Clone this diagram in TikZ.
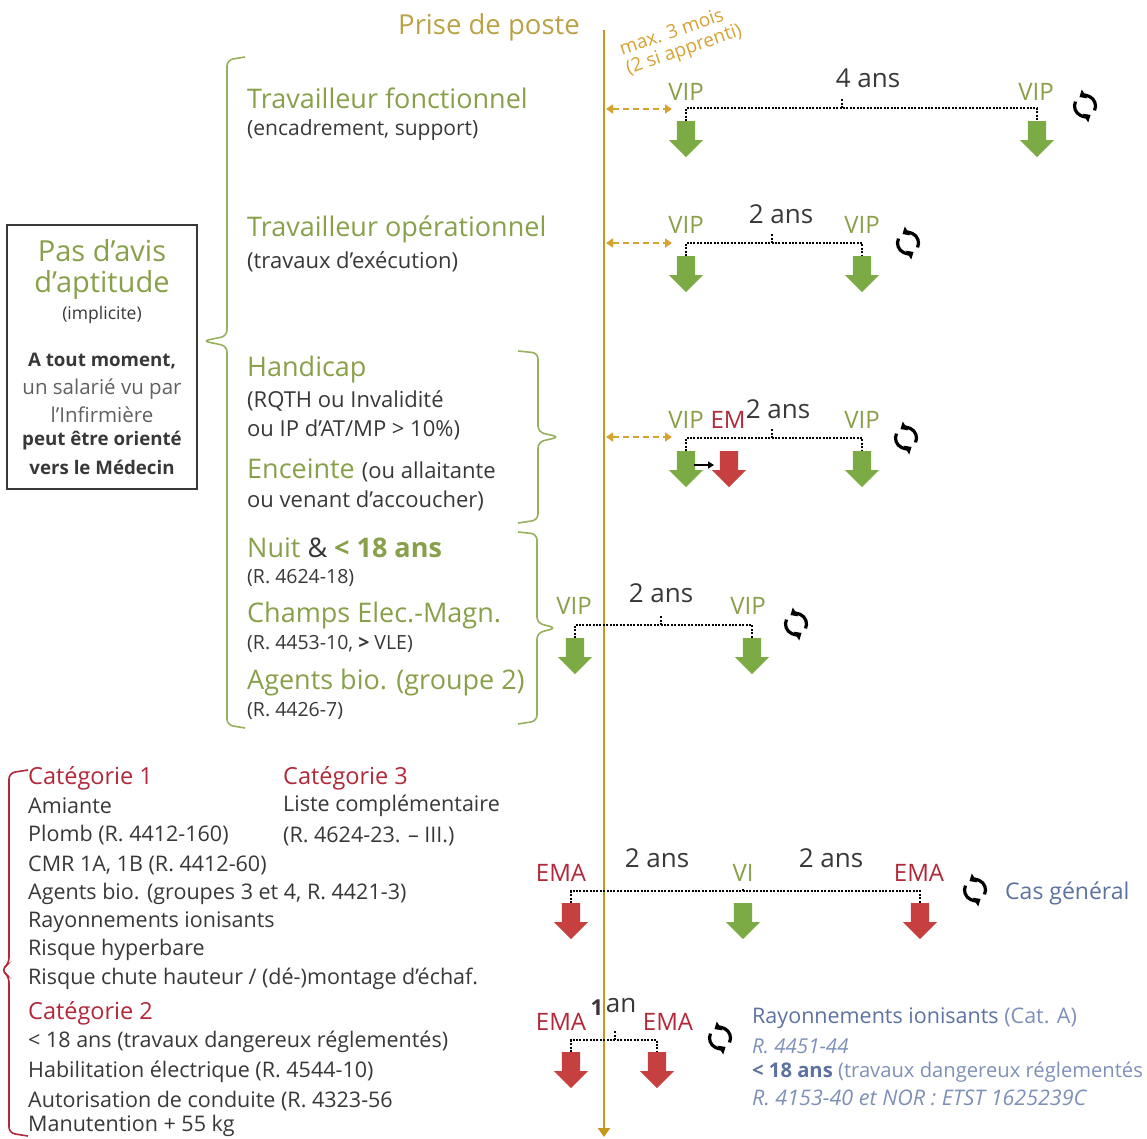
\documentclass[tikz,border=0pt]{standalone}
\usepackage{fontspec}
\setmainfont{Open Sans}
\usetikzlibrary{arrows.meta,shapes.arrows,calc}
\definecolor{tgreen}{RGB}{136,160,74}
\definecolor{agreen}{RGB}{124,170,68}
\definecolor{bgreen}{RGB}{150,176,94}
\definecolor{tred}{RGB}{178,40,56}
\definecolor{ared}{RGB}{198,64,64}
\definecolor{gold}{RGB}{196,152,30}
\definecolor{lgold}{RGB}{186,162,70}
\definecolor{ogold}{RGB}{214,162,50}
\definecolor{tblue}{RGB}{92,114,160}
\definecolor{lblue}{RGB}{126,144,184}
\definecolor{tdark}{RGB}{56,56,56}
\definecolor{tgray}{RGB}{96,96,96}
\newcommand{\fsz}[2]{\fontsize{#1}{#2}\selectfont}
\begin{document}
\begin{tikzpicture}[x=1pt,y=-1pt,
  every node/.style={inner sep=0pt,text=tdark},
  ttl/.style={anchor=west,text=tgreen,font=\fsz{27}{30}},
  sub/.style={anchor=west,font=\fsz{22}{28}},
  ref/.style={anchor=west,font=\fsz{19.5}{22}},
  cat/.style={anchor=west,font=\fsz{21.5}{29}},
  ctitle/.style={anchor=west,text=tred,font=\fsz{23.5}{29}},
  vip/.style={text=tgreen,font=\fsz{24}{26}},
  ema/.style={text=tred,font=\fsz{24}{26}},
  dur/.style={font=\fsz{26}{28}},
  garr/.style={single arrow,draw=none,fill=agreen,inner sep=9pt,minimum height=36pt,minimum width=34pt,single arrow head extend=8pt,shape border rotate=270,anchor=tail},
  rarr/.style={garr,fill=ared},
  dotline/.style={line width=2.4pt,dash pattern=on 2pt off 1.4pt},
  gdash/.style={draw=ogold,line width=2pt,dash pattern=on 6pt off 4pt,{Triangle[length=7pt,width=9pt]}-{Triangle[length=7pt,width=9pt]}},
  brc/.style={draw=bgreen,line width=1.6pt,rounded corners=6pt},
  syncicon/.pic={
    \draw[line width=3.2pt,-{Triangle[length=6pt,width=10pt]}] (25:10.5) arc (25:-122:10.5);
    \draw[line width=3.2pt,-{Triangle[length=6pt,width=10pt]}] (-155:10.5) arc (-155:-302:10.5);
  }]
  \useasboundingbox (0,0) rectangle (1147,1138);
  \node[text=lgold,font=\fsz{27.5}{30}] (prise) at (489,27) {Prise de poste};
  \coordinate (ttop) at (604,30);
  \coordinate (tbot) at (604,1137);
  \draw[gold,line width=2.8pt,-{Triangle[length=9pt,width=12pt]}] (ttop) -- (tbot);
  \node[text=ogold,font=\fsz{19}{20},rotate=19,align=left] (delai) at (681,41) {max. 3 mois\\(2 si apprenti)};

  \node[draw=tdark,line width=1.2pt,minimum width=190pt,minimum height=264pt] (box) at (102,357) {};
  \node[text=tgreen,font=\fsz{29}{30}] (pa1) at (102,251) {Pas d'avis};
  \node[text=tgreen,font=\fsz{29}{30}] (pa2) at (102,285) {d'aptitude};
  \node[font=\fsz{17.5}{20}] (pa3) at (102,315) {(implicite)};
  \node[font=\bfseries\fsz{18.7}{22}] (pa4) at (102,361) {A tout moment,};
  \node[text=tgray,font=\fsz{20.5}{22}] (pa5) at (102,389) {un salarié vu par};
  \node[text=tgray,font=\fsz{20.5}{22}] (pa6) at (102,415) {l'Infirmière};
  \node[font=\bfseries\fsz{18.7}{22}] (pa7) at (102,441) {peut être orienté};
  \node[font=\bfseries\fsz{18.7}{22}] (pa8) at (102,467) {vers le Médecin};
  \draw[brc] (245,57) -- (227,60) -- (227,336) -- (203,341) -- (227,346) -- (227,725) -- (245,728);

  \node[ttl] (t1) at (247,98) {Travailleur fonctionnel};
  \node[sub,font=\fsz{21}{28}] (s1) at (247,130) {(encadrement, support)};
  \node[vip] (v11) at (686,92) {VIP};
  \node[vip] (v12) at (1036,92) {VIP};
  \node[garr] (a11) at (686,121) {};
  \node[garr] (a12) at (1037,121) {};
  \coordinate (k1) at (842,108);
  \coordinate (e1) at (672,109);
  \draw[dotline] (a11.tail) -- ++(0,-13) -| (a12.tail);
  \draw[dotline] (k1) -- ++(0,-10);
  \node[dur] (d1) at (868,78) {4 ans};
  \draw[gdash] ($(ttop |- e1)+(2,0)$) -- (e1);
  \pic at (1085,106) {syncicon};

  \node[ttl] (t2) at (247,229) {Travailleur opérationnel};
  \node[sub] (s2) at (247,262) {(travaux d'exécution)};
  \node[vip] (v21) at (686,225) {VIP};
  \node[vip] (v22) at (862,225) {VIP};
  \node[garr] (a21) at (686,256) {};
  \node[garr] (a22) at (862,256) {};
  \coordinate (k2) at (772,243);
  \coordinate (e2) at (672,243);
  \draw[dotline] (a21.tail) -- ++(0,-13) -| (a22.tail);
  \draw[dotline] (k2) -- ++(0,-9);
  \node[dur] (d2) at (781,214) {2 ans};
  \draw[gdash] ($(ttop |- e2)+(2,0)$) -- (e2);
  \pic at (908,243) {syncicon};

  \draw[brc] (518,351) -- (538,353) -- (538,432) -- (559,437) -- (538,442) -- (538,520) -- (518,523);
  \node[ttl] (t3) at (247,369) {Handicap};
  \node[sub] (s3) at (247,401) {(RQTH ou Invalidité};
  \node[sub] (s4) at (247,430) {ou IP d'AT/MP > 10\%)};
  \node[ttl] (t4) at (247,470) {Enceinte \textcolor{tdark}{\fsz{22}{28}(ou allaitante}};
  \node[sub] (s5) at (247,501) {ou venant d'accoucher)};
  \node[vip] (v31) at (686,420) {VIP};
  \node[ema] (m31) at (728,420) {EM};
  \node[vip] (v32) at (862,420) {VIP};
  \node[garr] (a31) at (686,451) {};
  \node[rarr] (a32) at (729,451) {};
  \node[garr] (a33) at (862,451) {};
  \draw[line width=1.6pt,-{Triangle[length=6pt,width=7pt]}] ($(a31.tail)+(8,14)$) -- ($(a32.tail)+(-15,14)$);
  \coordinate (k3) at (772,438);
  \coordinate (e3) at (672,437);
  \draw[dotline] (a31.tail) -- ++(0,-13) -| (a33.tail);
  \draw[dotline] (k3) -- ++(0,-9);
  \node[dur] (d3) at (778,409) {2 ans};
  \draw[gdash] ($(ttop |- e3)+(2,0)$) -- (e3);
  \pic at (906,438) {syncicon};

  \draw[brc] (518,532) -- (537,534) -- (537,623) -- (556,628) -- (537,633) -- (537,721) -- (518,724);
  \node[ttl] (t5) at (247,548) {Nuit \textcolor{tdark}{\&} \textbf{< 18 ans}};
  \node[ref] (r5) at (247,578) {(R. 4624-18)};
  \node[ttl] (t6) at (247,615) {Champs Elec.-Magn.};
  \node[ref] (r6) at (247,644) {(R. 4453-10, \textbf{>} VLE)};
  \node[ttl] (t7) at (247,682) {Agents bio. (groupe 2)};
  \node[ref] (r7) at (247,711) {(R. 4426-7)};
  \node[vip] (v41) at (574,606) {VIP};
  \node[vip] (v42) at (748,606) {VIP};
  \node[garr] (a41) at (575,638) {};
  \node[garr] (a42) at (752,638) {};
  \coordinate (k4) at (661,625);
  \draw[dotline] (a41.tail) -- ++(0,-13) -| (a42.tail);
  \draw[dotline] (k4) -- ++(0,-9);
  \node[dur] (d4) at (661,593) {2 ans};
  \pic at (796,624) {syncicon};

  \draw[brc,draw=tred] (28,770) -- (9,773) -- (9,964) -- (1,970) -- (9,976) -- (9,1133) -- (28,1136);
  \node[ctitle] (c1) at (28,778) {Catégorie 1};
  \node[cat] (c11) at (28,806) {Amiante};
  \node[cat] (c12) at (28,835) {Plomb (R. 4412-160)};
  \node[cat] (c13) at (28,865) {CMR 1A, 1B (R. 4412-60)};
  \node[cat] (c14) at (28,894) {Agents bio. (groupes 3 et 4, R. 4421-3)};
  \node[cat] (c15) at (28,922) {Rayonnements ionisants};
  \node[cat] (c16) at (28,950) {Risque hyperbare};
  \node[cat] (c17) at (28,979) {Risque chute hauteur / (dé-)montage d'échaf.};
  \node[ctitle] (c2) at (28,1013) {Catégorie 2};
  \node[cat] (c21) at (28,1042) {< 18 ans (travaux dangereux réglementés)};
  \node[cat] (c22) at (28,1072) {Habilitation électrique (R. 4544-10)};
  \node[cat] (c23) at (28,1101) {Autorisation de conduite (R. 4323-56};
  \node[cat] (c24) at (28,1126) {Manutention + 55 kg};
  \node[ctitle] (c3) at (283,778) {Catégorie 3};
  \node[cat] (c31) at (283,806) {Liste complémentaire};
  \node[cat] (c32) at (283,836) {(R. 4624-23. – III.)};

  \node[ema] (m51) at (561,873) {EMA};
  \node[vip] (v52) at (743,873) {VI};
  \node[ema] (m53) at (919,873) {EMA};
  \node[rarr] (a51) at (571,903) {};
  \node[garr] (a52) at (743,903) {};
  \node[rarr] (a53) at (920,903) {};
  \draw[dotline] (a51.tail) -- ++(0,-12) -| (a53.tail);
  \draw[dotline] ($(a52.tail)+(0,-12)$) -- ++(0,-3);
  \node[dur] (d51) at (657,858) {2 ans};
  \node[dur] (d52) at (831,858) {2 ans};
  \pic at (975,890) {syncicon};
  \node[anchor=west,text=tblue,font=\fsz{23}{26}] (cg) at (1005,893) {Cas général};

  \node[ema] (m61) at (561,1022) {EMA};
  \node[ema] (m62) at (668,1022) {EMA};
  \node[font=\bfseries\fsz{22}{24}] (d61) at (597,1008) {1};
  \node[dur] (d62) at (621,1006) {an};
  \node[rarr] (a61) at (571,1052) {};
  \node[rarr] (a62) at (657,1052) {};
  \draw[dotline] (a61.tail) -- ++(0,-12) -| (a62.tail);
  \coordinate (k6) at (615,1040);
  \draw[dotline] (k6) -- ++(0,-10);
  \pic at (720,1038) {syncicon};
  \node[anchor=west,text=tblue,font=\fsz{21.5}{26}] (ri1) at (752,1018) {Rayonnements ionisants \textcolor{lblue}{(Cat. A)}};
  \node[anchor=west,text=lblue,font=\itshape\fsz{20.5}{26}] (ri2) at (752,1046) {R. 4451-44};
  \node[anchor=west,text=lblue,font=\fsz{20.2}{26}] (ri3) at (752,1072) {\textcolor{tblue}{\textbf{< 18 ans}} (travaux dangereux réglementés};
  \node[anchor=west,text=lblue,font=\itshape\fsz{21.5}{26}] (ri4) at (752,1098) {R. 4153-40 et NOR : ETST 1625239C};
\end{tikzpicture}
\end{document}
